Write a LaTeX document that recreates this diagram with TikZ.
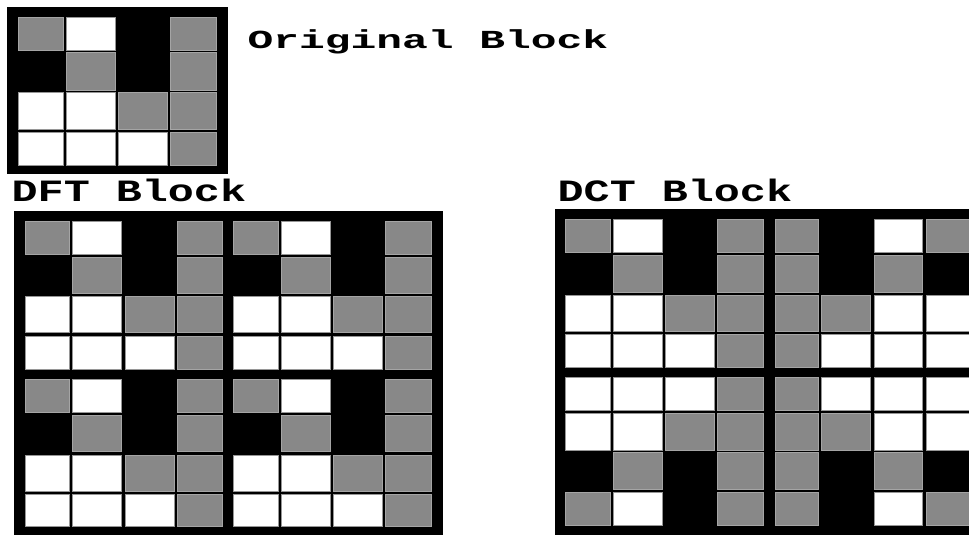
\documentclass[tikz,border=0pt]{standalone}
\usepackage{fontspec}
\usepackage{graphicx}
\newfontfamily\pixfont{Liberation Mono}
\definecolor{G}{RGB}{136,136,136}
\definecolor{GE}{RGB}{165,165,165}
\colorlet{W}{white}
\definecolor{WE}{RGB}{150,150,150}
\colorlet{K}{black}
\colorlet{KE}{black}
\newcommand\celltile[9]{%
  \foreach \ya/\yb/\ca/\cb/\cc/\cd in {#9}{%
    \foreach \xa/\xb/\cl in {#1/#2/\ca,#3/#4/\cb,#5/#6/\cc,#7/#8/\cd}{%
      \filldraw[fill=\cl, draw=\cl E, line width=0.6pt] (\xa,\ya) rectangle (\xb,\yb);}}}
\tikzset{
  blocklabel/.style={inner sep=0pt, anchor=base west},
  frame/.style={fill=black}
}
\begin{document}
\begin{tikzpicture}[x=1pt,y=-1pt]
\useasboundingbox (0,0) rectangle (969,535);
\fill[white] (0,0) rectangle (969,535);
\begin{scope}
\clip (0,0) rectangle (969,535);
% ---------- Original block ----------
\fill[frame] (7.3,7) rectangle (228,174);
\celltile{18.3}{63.3}{66}{115.7}{118.3}{167.3}{170.7}{216}{%
  17.3/50/G/W/K/G, 52.7/90/K/G/K/G, 92.7/129.3/W/W/G/G, 132.3/165.3/W/W/W/G}
% ---------- DFT block ----------
\fill[frame] (14,211) rectangle (442.7,545);
\celltile{25.7}{69.3}{72.7}{121.7}{125}{174}{177.3}{222.7}{%
  221/254.3/G/W/K/G, 257/293.3/K/G/K/G, 296.7/332.7/W/W/G/G, 336/369/W/W/W/G}
\celltile{233.3}{278.3}{281.7}{330}{333.3}{382.3}{385.7}{431}{%
  221/254.3/G/W/K/G, 257/293.3/K/G/K/G, 296.7/332.7/W/W/G/G, 336/369/W/W/W/G}
\celltile{25.7}{69.3}{72.7}{121.7}{125}{174}{177.3}{222.7}{%
  379/412.3/G/W/K/G, 415/451.7/K/G/K/G, 455/491/W/W/G/G, 494.3/526.7/W/W/W/G}
\celltile{233.3}{278.3}{281.7}{330}{333.3}{382.3}{385.7}{431}{%
  379/412.3/G/W/K/G, 415/451.7/K/G/K/G, 455/491/W/W/G/G, 494.3/526.7/W/W/W/G}
% ---------- DCT block ----------
\fill[frame] (555,209.3) rectangle (990,545);
\celltile{565.7}{610.7}{613.3}{662.3}{665.7}{714.3}{717.7}{763.3}{%
  219.3/252.3/G/W/K/G, 255.3/292.3/K/G/K/G, 295/331/W/W/G/G, 334.3/367.7/W/W/W/G}
\celltile{775}{818.3}{821.7}{870.7}{874}{922.7}{926}{975}{%
  219.3/252.3/G/K/W/G, 255.3/292.3/G/K/G/K, 295/331/G/G/W/W, 334.3/367.7/G/W/W/W}
\celltile{565.7}{610.7}{613.3}{662.3}{665.7}{714.3}{717.7}{763.3}{%
  377/410.3/W/W/W/G, 413.3/450/W/W/G/G, 452.7/489.3/K/G/K/G, 492.3/525.7/G/W/K/G}
\celltile{775}{818.3}{821.7}{870.7}{874}{922.7}{926}{975}{%
  377/410.3/G/W/W/W, 413.3/450/G/G/W/W, 452.7/489.3/G/K/G/K, 492.3/525.7/G/K/W/G}
\end{scope}
% ---------- labels ----------
\node[blocklabel] (origlabel) at (247.5,48.3)
  {\scalebox{1.65}[1]{\pixfont\bfseries\fontsize{26}{26}\selectfont Original Block}};
\node[blocklabel] (dftlabel) at (11.5,201)
  {\scalebox{1.4}[1]{\pixfont\bfseries\fontsize{31}{31}\selectfont DFT Block}};
\node[blocklabel] (dctlabel) at (557.5,201)
  {\scalebox{1.4}[1]{\pixfont\bfseries\fontsize{31}{31}\selectfont DCT Block}};
\end{tikzpicture}
\end{document}
